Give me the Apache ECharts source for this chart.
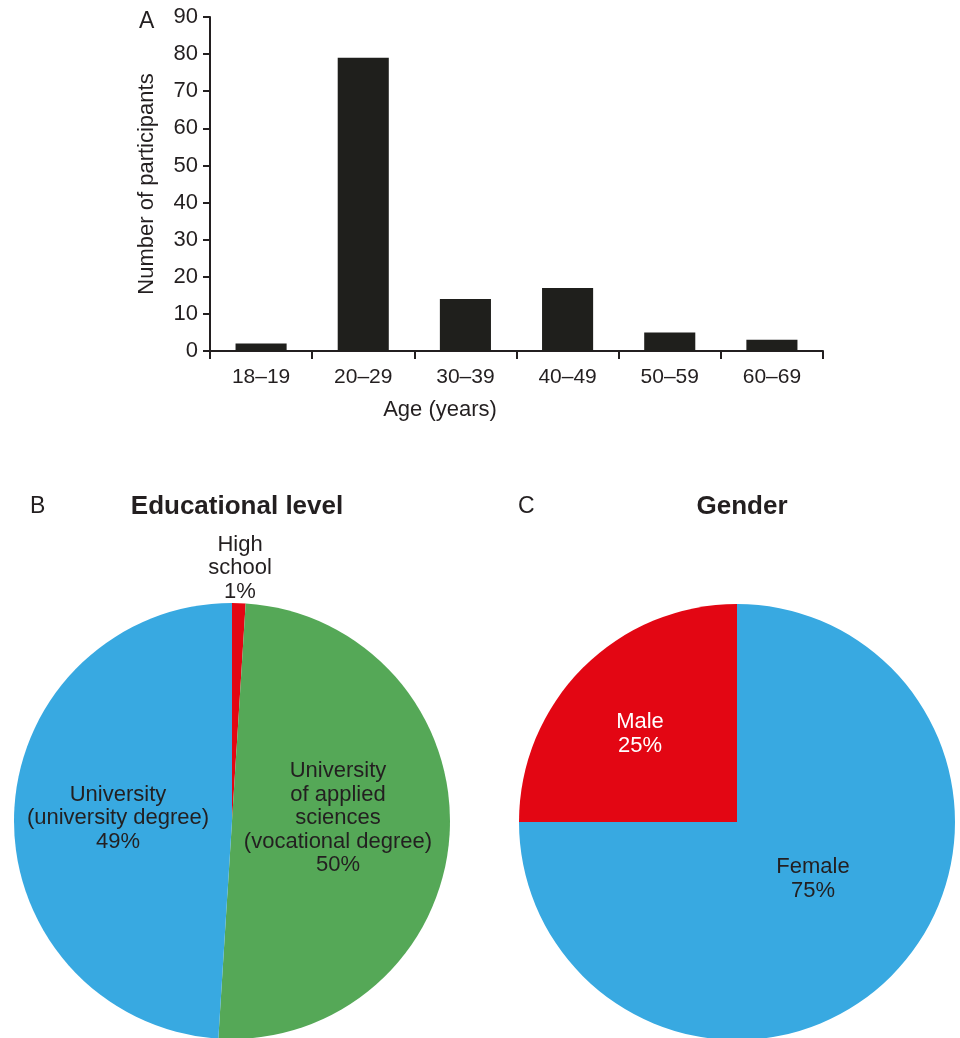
<!DOCTYPE html>
<html>
<head>
<meta charset="utf-8">
<script src="https://cdn.jsdelivr.net/npm/echarts@6/dist/echarts.min.js"></script>
<style>
  html, body { margin: 0; padding: 0; background: #fff; }
  #chart { width: 960px; height: 1038px; }
</style>
</head>
<body>
<div id="chart"></div>
<script>
// Age distribution (panel A)
const ageGroups = ['18\u201319', '20\u201329', '30\u201339', '40\u201349', '50\u201359', '60\u201369'];
const participants = [2, 79, 14, 17, 5, 3];
const yTicks = { min: 0, max: 90, interval: 10 };

// Educational level (panel B), percent
const eduNames = ['High school', 'University of applied sciences', 'University'];
const eduLabels = ['High\nschool', 'University\nof applied\nsciences\n(vocational degree)', 'University\n(university degree)'];
const eduPercent = [1, 50, 49];

// Gender (panel C), percent
const genderNames = ['Female', 'Male'];
const genderPercent = [75, 25];

const FONT = '"Liberation Sans", Arial, Helvetica, sans-serif';
const TEXT = '#231f20';
const RED = '#e30613', BLUE = '#38a9e1', GREEN = '#55a857';

// where each pie label sits (label placement only)
const eduLabelPos = [[240, 568], [338, 818], [118, 818]];
const genderLabelPos = [[813, 879], [640, 734]];

const chart = echarts.init(document.getElementById('chart'), null, { renderer: 'canvas' });

const pieLabel = {
  show: true,
  position: 'inside',
  fontFamily: FONT,
  fontSize: 22,
  lineHeight: 23.5,
  color: TEXT,
  align: 'center'
};

const plain = size => ({ fontFamily: FONT, fontSize: size, fontWeight: 'normal', color: TEXT });
const bold = size => ({ fontFamily: FONT, fontSize: size, fontWeight: 'bold', color: TEXT });

chart.setOption({
  backgroundColor: '#fff',
  animation: false,
  title: [
    { text: 'A', left: 139, top: 10, padding: 0, textStyle: plain(23) },
    { text: 'Age (years)', left: 440, top: 399, padding: 0, textAlign: 'center', textStyle: plain(22) },
    { text: 'B', left: 30, top: 495, padding: 0, textStyle: plain(23) },
    { text: 'Educational level', left: 237, top: 494, padding: 0, textAlign: 'center', textStyle: bold(26) },
    { text: 'C', left: 518, top: 495, padding: 0, textStyle: plain(23) },
    { text: 'Gender', left: 742, top: 494, padding: 0, textAlign: 'center', textStyle: bold(26) }
  ],
  grid: { left: 210, right: 137, top: 17, bottom: 687, containLabel: false },
  xAxis: {
    type: 'category',
    data: ageGroups,
    boundaryGap: true,
    axisLine: { lineStyle: { color: TEXT, width: 2 } },
    axisTick: { show: true, alignWithLabel: false, length: 8, lineStyle: { color: TEXT, width: 2 } },
    axisLabel: { fontFamily: FONT, fontSize: 21, color: TEXT, margin: 16 }
  },
  yAxis: {
    type: 'value',
    min: yTicks.min, max: yTicks.max, interval: yTicks.interval,
    name: 'Number of participants',
    nameLocation: 'middle',
    nameGap: 52,
    nameRotate: 90,
    nameTextStyle: { fontFamily: FONT, fontSize: 22, color: TEXT },
    axisLine: { show: true, lineStyle: { color: TEXT, width: 2 } },
    axisTick: { show: true, length: 7, lineStyle: { color: TEXT, width: 2 } },
    axisLabel: { fontFamily: FONT, fontSize: 22, color: TEXT, margin: 12 },
    splitLine: { show: false }
  },
  series: [
    {
      type: 'bar',
      data: participants,
      barWidth: '50%',
      itemStyle: { color: '#1f1f1c' }
    },
    {
      type: 'pie',
      center: [232, 821],
      radius: 218,
      startAngle: 90,
      clockwise: true,
      data: eduNames.map((n, i) => ({
        name: n,
        value: eduPercent[i],
        itemStyle: { color: [RED, GREEN, BLUE][i] }
      })),
      label: Object.assign({}, pieLabel, {
        formatter: p => eduLabels[p.dataIndex] + '\n' + p.value + '%'
      }),
      labelLine: { show: false },
      labelLayout: p => ({ x: eduLabelPos[p.dataIndex][0], y: eduLabelPos[p.dataIndex][1], align: 'center', verticalAlign: 'middle' }),
      emphasis: { disabled: true }
    },
    {
      type: 'pie',
      center: [737, 822],
      radius: 218,
      startAngle: 90,
      clockwise: true,
      data: genderNames.map((n, i) => ({
        name: n,
        value: genderPercent[i],
        itemStyle: { color: [BLUE, RED][i] },
        label: { color: i === 1 ? '#ffffff' : TEXT }
      })),
      label: Object.assign({}, pieLabel, {
        formatter: p => p.name + '\n' + p.value + '%'
      }),
      labelLine: { show: false },
      labelLayout: p => ({ x: genderLabelPos[p.dataIndex][0], y: genderLabelPos[p.dataIndex][1], align: 'center', verticalAlign: 'middle' }),
      emphasis: { disabled: true }
    }
  ]
});
</script>
</body>
</html>
